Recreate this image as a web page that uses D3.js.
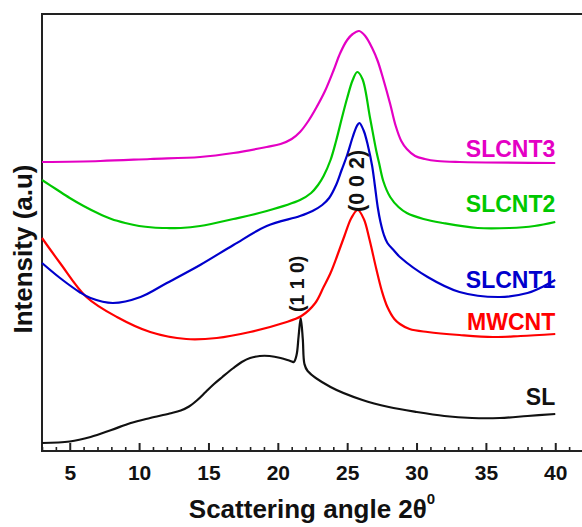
<!DOCTYPE html>
<html>
<head>
<meta charset="utf-8">
<script src="https://cdn.jsdelivr.net/npm/d3@7/dist/d3.min.js"></script>
<style>
  html, body { margin: 0; padding: 0; background: #fff; }
  svg { display: block; }
  text { font-family: "Liberation Sans", Arial, sans-serif; font-weight: bold; }
</style>
</head>
<body>
<svg id="chart" width="582" height="527"></svg>
<script>
// ---- Data (2θ in degrees, intensity in arbitrary units, stacked offsets included) ----
const seriesNames = ["SL", "MWCNT", "SLCNT1", "SLCNT2", "SLCNT3"];
const seriesColors = ["#111111", "#ff0000", "#0000cc", "#00c800", "#e400c4"];

const SL = [[3,8],[5,9.5],[6.5,14],[8,21],[9.4,28],[10.8,33],[12.2,37.5],[13,40.5],[13.6,44.5],[14.2,51],
  [14.8,59],[15.4,67],[16,74],[16.8,83],[17.4,89],[18,93],[18.7,95],[19.4,95],[20.2,93],[20.9,90],
  [21.15,89],[21.35,96],[21.5,115],[21.65,133],[21.8,112],[21.92,87],[22.15,80],[23.8,64],[26.1,51],
  [28,44],[30,39],[32,35],[34,33],[36,33],[38,35],[40,37]];

const MWCNT = [[3,213],[4.3,188],[6.2,154],[8.4,134],[10.8,119],[13.4,112],[15.6,113],[18,119],[20.4,128],
  [21.7,135],[22.7,148],[23.3,164],[23.8,178],[24.3,196],[24.8,215],[25.3,233],[25.76,241],[26.2,232],
  [26.6,212],[27.1,182],[27.5,160],[27.9,144],[28.4,132],[28.8,127],[29.5,122],[30.8,119],[33.1,116],
  [35.5,114],[37.5,115],[40,117]];

const SLCNT1 = [[3,188],[4.3,173],[5.7,159],[6.5,153],[8.1,148],[10.1,154],[12,168],[14.4,186],[16.8,206],
  [19.2,225],[21.6,235],[22.5,240],[23.2,246],[23.7,253],[24.2,266],[24.6,281],[25,296],[25.4,314],
  [25.7,325],[25.88,328],[26.2,320],[26.5,305],[26.8,285],[27,265],[27.2,244],[27.4,229],[27.65,216],
  [27.9,208],[28.4,200],[28.8,194],[30.8,174],[33.1,159],[36,154],[38,158],[38.9,163],[40,171]];

const SLCNT2 = [[3,271],[4,262],[5,253],[6,245],[7,238],[8,232],[9,228],[10,225],[11,223.5],[12,223],
  [13,223],[14.4,225],[16.8,232],[19.2,240],[21.6,251],[22.4,258],[22.9,266],[23.3,275],[23.8,291],
  [24.2,310],[24.6,332],[25,353],[25.4,371],[25.73,379],[26.1,372],[26.65,333],[27.1,300],[27.3,288],
  [27.6,270],[28.1,254],[28.7,244],[29.3,238],[30.5,232],[31.9,228],[34.4,223],[36.7,223],[38.5,225],[40,229]];

const SLCNT3 = [[3,289],[7.2,290],[10.8,292],[14.4,294],[16.8,298],[19.2,304],[20.2,307],[21,312],
  [21.6,319],[22.2,330],[22.8,344],[23.4,360],[24,380],[24.5,398],[25,411],[25.4,417],[25.86,420],
  [26.3,415],[26.8,403],[27.2,390],[27.6,372],[28.1,347],[28.5,325],[28.9,310],[29.3,302],[29.9,295],
  [30.6,292],[31.5,290],[33.1,289],[40,288]];

const seriesData = [SL, MWCNT, SLCNT1, SLCNT2, SLCNT3];
const labelValues = [46, 121, 163, 239, 294];   // baseline (intensity) of each series label

const xTicks = [5, 10, 15, 20, 25, 30, 35, 40];
const xMinorTicks = d3.range(3, 43, 1).filter(v => v % 5 !== 0);
const peakLabels = [
  {text: "(1 1 0)", x: 21.65, y: 139, size: 19.5, dx: 3.5},
  {text: "(0 0 2)", x: 25.8, y: 239, size: 21.5, dx: 5.5}
];

// ---- Layout ----
const m = {left: 42, top: 14, right: 583, bottom: 451};
const svg = d3.select("#chart");

const x = d3.scaleLinear().domain([3, 42]).range([m.left, m.right]);
const y = d3.scaleLinear().domain([0, 437]).range([m.bottom, m.top]);

// frame
svg.append("line").attr("x1", m.left).attr("x2", m.right + 2).attr("y1", m.top).attr("y2", m.top)
  .attr("stroke", "#222").attr("stroke-width", 2);
svg.append("line").attr("x1", m.left).attr("x2", m.left).attr("y1", m.top - 1).attr("y2", m.bottom + 1)
  .attr("stroke", "#222").attr("stroke-width", 2);

// bottom axis with inward ticks
const xAxis = d3.axisBottom(x).tickValues(xTicks).tickSize(-8).tickPadding(14).tickFormat(d3.format("d"));
const gx = svg.append("g").attr("transform", `translate(0,${m.bottom})`).call(xAxis);
gx.select(".domain").attr("stroke", "#222").attr("stroke-width", 2).attr("d", `M${m.left},0H${m.right + 2}`);
gx.selectAll(".tick line").attr("stroke", "#222").attr("stroke-width", 2);
gx.selectAll(".tick text").attr("font-size", 21).attr("fill", "#111")
  .attr("font-family", "Liberation Sans, Arial, sans-serif").attr("font-weight", "bold");
const xMinor = d3.axisBottom(x).tickValues(xMinorTicks).tickSize(-4).tickFormat("");
const gxm = svg.append("g").attr("transform", `translate(0,${m.bottom})`).call(xMinor);
gxm.select(".domain").remove();
gxm.selectAll(".tick line").attr("stroke", "#222").attr("stroke-width", 1.6);

// curves
const smooth = d3.line().x(d => x(d[0])).y(d => y(d[1])).curve(d3.curveCatmullRom.alpha(0.5));
seriesData.forEach((s, i) => {
  svg.append("path").datum(s).attr("d", smooth).attr("fill", "none")
    .attr("stroke", seriesColors[i]).attr("stroke-width", 2.2).attr("stroke-linejoin", "round");
});

// series labels
seriesNames.forEach((n, i) => {
  svg.append("text").attr("x", x(40)).attr("y", y(labelValues[i]))
    .attr("text-anchor", "end").attr("font-size", 23).attr("fill", seriesColors[i]).text(n);
});

// peak labels (rotated)
peakLabels.forEach(p => {
  svg.append("text")
    .attr("transform", `translate(${x(p.x) + p.dx},${y(p.y)}) rotate(-90)`)
    .attr("text-anchor", "start").attr("font-size", p.size).attr("fill", "#111").text(p.text);
});

// axis titles
const xt = svg.append("text").attr("x", 312).attr("y", 518).attr("text-anchor", "middle")
  .attr("font-size", 26).attr("fill", "#111");
xt.append("tspan").text("Scattering angle 2θ");
xt.append("tspan").attr("dy", -14).attr("font-size", 15).text("0");

svg.append("text").attr("transform", `translate(32,249) rotate(-90)`).attr("text-anchor", "middle")
  .attr("font-size", 26).attr("fill", "#111").text("Intensity (a.u)");
</script>
</body>
</html>
